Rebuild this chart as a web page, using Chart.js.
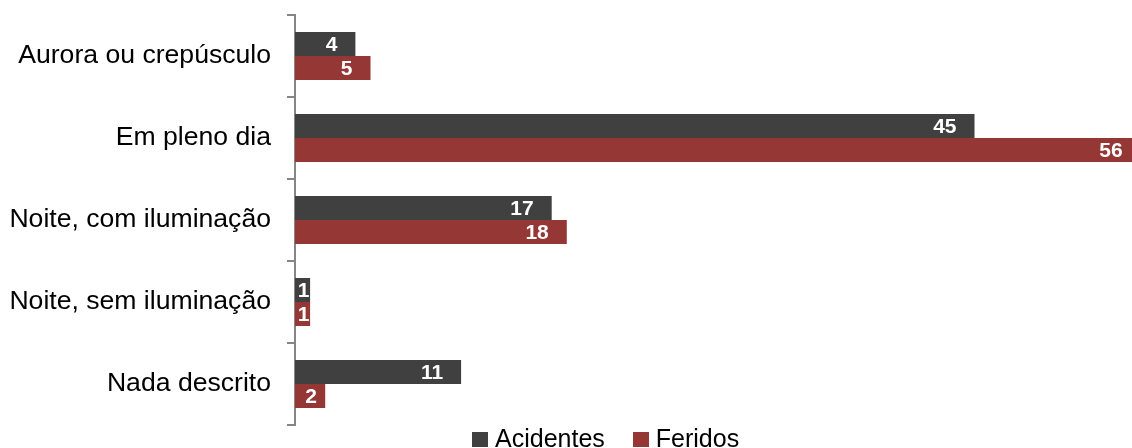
<!DOCTYPE html>
<html>
<head>
<meta charset="utf-8">
<script src="https://cdn.jsdelivr.net/npm/chart.js@4"></script>
<style>
  body { margin: 0; background: #fff; overflow: hidden; }
  #wrap { position: relative; width: 1132px; height: 448px; }
  #legend {
    position: absolute; left: 472px; top: 426px;
    font: 25px "Liberation Sans", Arial, sans-serif; line-height: 25px;
    color: #000; white-space: nowrap;
  }
  #legend .box { display: inline-block; width: 16px; height: 15px; margin-right: 7px; }
  #legend .item + .item { margin-left: 28px; }
</style>
</head>
<body>
<div id="wrap">
  <canvas id="chart" width="1132" height="448"></canvas>
  <div id="legend"></div>
</div>
<script>
const categories = ['Aurora ou crepúsculo', 'Em pleno dia', 'Noite, com iluminação', 'Noite, sem iluminação', 'Nada descrito'];
const acidentes = [4, 45, 17, 1, 11];
const feridos = [5, 56, 18, 1, 2];
const seriesNames = ['Acidentes', 'Feridos'];
const seriesColors = ['#404040', '#953735'];

// white bold value labels, inside the bar end (centred when the bar is too short)
const valueLabels = {
    id: 'valueLabels',
    afterDatasetsDraw(chart) {
        const ctx = chart.ctx;
        ctx.save();
        ctx.font = 'bold 21px "Liberation Sans", Arial, sans-serif';
        ctx.fillStyle = '#fff';
        ctx.textBaseline = 'middle';
        chart.data.datasets.forEach((ds, i) => {
            chart.getDatasetMeta(i).data.forEach((bar, j) => {
                const txt = String(ds.data[j]);
                const w = ctx.measureText(txt).width;
                const len = bar.x - bar.base;
                if (len >= w + 36) {
                    ctx.textAlign = 'right';
                    ctx.fillText(txt, bar.x - 18, bar.y + 1);
                } else {
                    ctx.textAlign = 'center';
                    ctx.fillText(txt, (bar.x + bar.base) / 2 + 1, bar.y + 1);
                }
            });
        });
        ctx.restore();
    }
};

const chart = new Chart(document.getElementById('chart').getContext('2d'), {
    type: 'bar',
    data: {
        labels: categories,
        datasets: [
            { label: seriesNames[0], data: acidentes, backgroundColor: seriesColors[0] },
            { label: seriesNames[1], data: feridos, backgroundColor: seriesColors[1] }
        ]
    },
    options: {
        indexAxis: 'y',
        responsive: false,
        animation: false,
        layout: { padding: { top: 15, bottom: 23, left: 0, right: 0 } },
        datasets: { bar: { categoryPercentage: 0.585, barPercentage: 1 } },
        scales: {
            x: { display: false, min: 0, max: 55.43 },
            y: {
                afterFit: scale => {
                    scale.width = 295;
                    scale.paddingTop = 0;
                    scale.paddingBottom = 0;
                },
                grid: {
                    offset: true, drawOnChartArea: false, drawTicks: true,
                    tickLength: 8, color: '#868686', lineWidth: 2
                },
                border: { color: '#868686', width: 2 },
                ticks: {
                    padding: 16, color: '#000',
                    font: { family: '"Liberation Sans", Arial, sans-serif', size: 26.6 }
                }
            }
        },
        plugins: { legend: { display: false }, tooltip: { enabled: false } }
    },
    plugins: [valueLabels]
});

// legend built from the series arrays
const legendEl = document.getElementById('legend');
seriesNames.forEach((name, i) => {
    const item = document.createElement('span');
    item.className = 'item';
    const box = document.createElement('span');
    box.className = 'box';
    box.style.background = seriesColors[i];
    item.appendChild(box);
    item.appendChild(document.createTextNode(name));
    legendEl.appendChild(item);
});
</script>
</body>
</html>
